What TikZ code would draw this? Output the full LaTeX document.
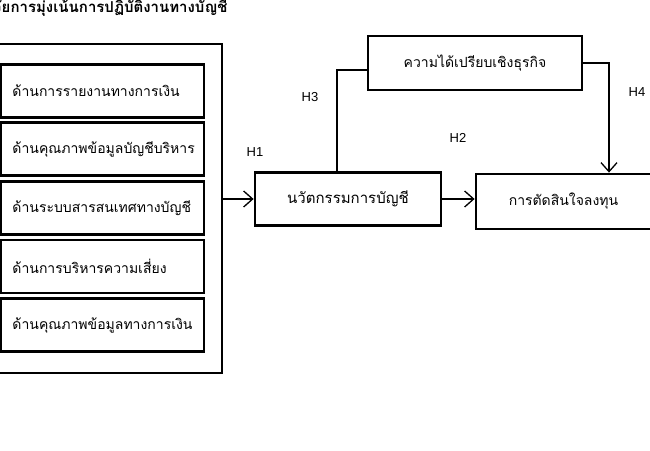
\documentclass[tikz,border=0pt]{standalone}
\usepackage{fontspec}
\setmainfont{Liberation Sans}
\newfontfamily\thaifont[Script=Thai]{Loma}
\usetikzlibrary{arrows.meta}

\begin{document}
\begin{tikzpicture}[x=1pt, y=-1pt,
        box/.style={draw, line width=2.8pt, minimum height=53pt, font=\thaifont\fontsize{14}{16}\selectfont},
        conn/.style={line width=1.3pt},
        arr/.style={conn, -{Straight Barb[length=9pt, width=16pt]}},
        hyp/.style={font=\fontsize{13}{15}\selectfont}]
        \useasboundingbox (0,0) rectangle (650,450);
        \clip (0,0) rectangle (650,450);

        \node[anchor=base east, font=\thaifont\bfseries\fontsize{15}{17}\selectfont] (title) at (231,12) {ปัจจัยการมุ่งเน้นการปฏิบัติงานทางบัญชี};

        % independent variables
        \node[draw, line width=2.8pt, minimum width=232pt, minimum height=329pt] (outer) at (106,208.5) {};
        \foreach \t [count=\i] in {ด้านการรายงานทางการเงิน, ด้านคุณภาพข้อมูลบัญชีบริหาร, ด้านระบบสารสนเทศทางบัญชี, ด้านการบริหารความเสี่ยง, ด้านคุณภาพข้อมูลทางการเงิน}
            \node[box, minimum width=203pt, text width=180pt, align=left] (side\i) at (102.5, 32+58.6*\i) {\t};

        \node[box, minimum width=186pt, font=\thaifont\fontsize{15}{17}\selectfont] (nova) at (348,199) {นวัตกรรมการบัญชี};
        \node[box, minimum width=214pt, minimum height=54pt] (adv) at (475,63) {ความได้เปรียบเชิงธุรกิจ};
        \node[box, minimum width=175pt, minimum height=55pt] (dec) at (563.5,201.5) {การตัดสินใจลงทุน};

        \coordinate (h4turn) at (609,63);
        \draw[arr] (outer.east |- nova.west) -- (nova.west);
        \draw[arr] (nova.east) -- (nova.east -| dec.west);
        \draw[conn] ([xshift=-11pt]nova.north) |- ([yshift=-7pt]adv.west);
        \draw[arr] (adv.east) -- (h4turn) -- (h4turn |- dec.north);

        \node[hyp] (h1) at (255,152) {H1};
        \node[hyp] (h2) at (458,138) {H2};
        \node[hyp] (h3) at (310,97) {H3};
        \node[hyp] (h4) at (637,92) {H4};
    \end{tikzpicture}
\end{document}
